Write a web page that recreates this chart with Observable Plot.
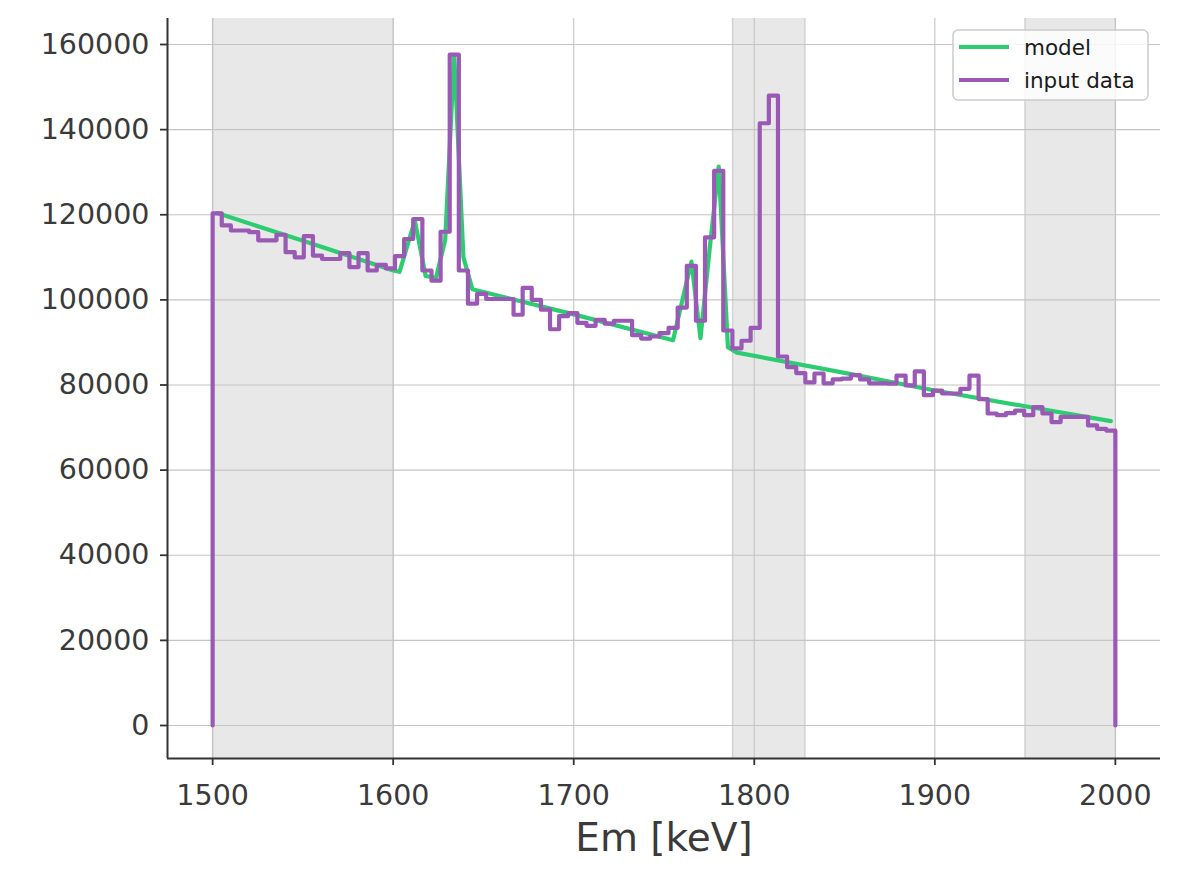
<!DOCTYPE html>
<html><head><meta charset="utf-8">
<script src="https://cdn.jsdelivr.net/npm/d3@7"></script>
<script src="https://cdn.jsdelivr.net/npm/@observablehq/plot@0.6"></script>
<style>
body{margin:0;background:#fff;}
#chart{position:relative;width:1179px;height:880px;}
</style>
</head><body><div id="chart"></div>
<script>
// ---- data ----
const xTicks = [1500, 1600, 1700, 1800, 1900, 2000];
const yTicks = [0, 20000, 40000, 60000, 80000, 100000, 120000, 140000, 160000];
const xLabel = "Em [keV]";
const binLow = 1500, binHigh = 2000;
// input data: histogram counts per bin (99 equal bins between binLow and binHigh)
const counts = [
  120300, 117500, 116300, 116300, 115900, 114000, 114000, 115300, 111200, 110000,
  115000, 110400, 109600, 109600, 111000, 107700, 111000, 106900, 108200, 107400,
  110300, 114300, 119000, 106900, 104500, 116000, 157600, 106900, 99100, 101400,
  100200, 100200, 100200, 96500, 102800, 100000, 97700, 93100, 96200, 96900,
  94600, 93900, 95300, 94400, 95100, 95100, 91700, 90900, 91400, 92200,
  93400, 98200, 108000, 95100, 114700, 130300, 92800, 88600, 90400, 93400,
  141500, 148000, 86700, 84200, 82800, 80600, 82700, 80400, 81300, 81500,
  82300, 81300, 80400, 80400, 80300, 82200, 79900, 83200, 77600, 78700,
  78000, 78000, 79100, 82200, 76700, 73300, 72900, 73400, 74000, 72900,
  74800, 73300, 71300, 72500, 72500, 72500, 70500, 69700, 69300
];
// model curve vertices
const modelEnergy = [1502.5, 1525, 1550, 1575, 1600, 1603.5, 1612, 1618, 1623.7, 1628.8, 1633.8, 1638.9, 1643.9,
  1700, 1755, 1765.2, 1770.2, 1775.3, 1780.3, 1785.4, 1790.4, 1850, 1900, 1950, 1997.5];
const modelCounts = [120400, 117300, 113900, 110400, 106900, 106600, 118600, 105600, 105200, 114000, 157500, 110000, 102500,
  96600, 90500, 109000, 91000, 112000, 131300, 88900, 87600, 82850, 78700, 75000, 71500];
// shaded energy windows
const spanStart = [1500, 1788, 1950];
const spanEnd = [1600, 1828, 2000];
const seriesNames = ["model", "input data"];
const seriesColors = ["#2ecc71", "#9b59b6"];

// ---- build ----
const xDomain = [1475, 2025];
const yDomain = [-7753, 166108];
const nBins = counts.length;
const binWidth = (binHigh - binLow) / nBins;
const edges = d3.range(nBins + 1).map(i => binLow + i * binWidth);
const stepPts = [{e: binLow, c: 0}]
  .concat(counts.map((c, i) => ({e: edges[i], c})))
  .concat([{e: binHigh, c: counts[nBins - 1]}, {e: binHigh, c: 0}]);
const modelPts = modelEnergy.map((e, i) => ({e, c: modelCounts[i]}));
const spans = spanStart.map((s, i) => ({s, t: spanEnd[i]}));

const axisColor = "#333333";
const chart = Plot.plot({
  width: 1179, height: 880,
  marginLeft: 167, marginRight: 19, marginTop: 18, marginBottom: 122,
  style: {fontFamily: "DejaVu Sans", fontSize: "28.5px", color: "#3a3a3a", background: "#fff"},
  x: {domain: xDomain},
  y: {domain: yDomain},
  marks: [
    Plot.rect(spans, {x1: "s", x2: "t", fill: "#e8e8e8"}),
    Plot.ruleX(spans, {x: "s", stroke: "#d2d2d2", strokeWidth: 1.5}),
    Plot.ruleX(spans, {x: "t", stroke: "#d2d2d2", strokeWidth: 1.5}),
    Plot.gridX(xTicks, {stroke: "#c4c4c4", strokeOpacity: 1, strokeWidth: 1.1}),
    Plot.gridY(yTicks, {stroke: "#c4c4c4", strokeOpacity: 1, strokeWidth: 1.1}),
    Plot.line(modelPts, {x: "e", y: "c", stroke: seriesColors[0], strokeWidth: 4.2}),
    Plot.line(stepPts, {x: "e", y: "c", curve: "step-after", stroke: seriesColors[1], strokeWidth: 4.2}),
    Plot.ruleX([xDomain[0]], {stroke: axisColor, strokeWidth: 2}),
    Plot.ruleY([yDomain[0]], {stroke: axisColor, strokeWidth: 2}),
    Plot.axisX(xTicks, {tickFormat: d => String(d), tickSize: 7, tickPadding: 19, strokeWidth: 1.8, stroke: axisColor, label: null}),
    Plot.axisY(yTicks, {tickFormat: d => String(d), tickSize: 7, tickPadding: 11, strokeWidth: 1.8, stroke: axisColor, label: null}),
    Plot.text([xLabel], {frameAnchor: "bottom", dy: 92, fontSize: 39, fill: "#3a3a3a"})
  ]
});
document.getElementById("chart").appendChild(chart);

// legend inside plot area (top-right)
const svg = d3.select(chart);
const lg = svg.append("g").attr("transform", "translate(953,30)");
lg.append("rect").attr("width", 195).attr("height", 70).attr("rx", 5)
  .attr("fill", "#ffffff").attr("fill-opacity", 0.8).attr("stroke", "#cccccc").attr("stroke-width", 1.5);
seriesNames.forEach((name, i) => {
  const yy = 17 + i * 33;
  lg.append("line").attr("x1", 6).attr("x2", 56).attr("y1", yy).attr("y2", yy)
    .attr("stroke", seriesColors[i]).attr("stroke-width", 4.2);
  lg.append("text").attr("x", 71).attr("y", yy + 8).text(name)
    .attr("text-anchor", "start")
    .attr("font-family", "DejaVu Sans").attr("font-size", 21.5).attr("fill", "#1a1a1a");
});
</script>
</body></html>
